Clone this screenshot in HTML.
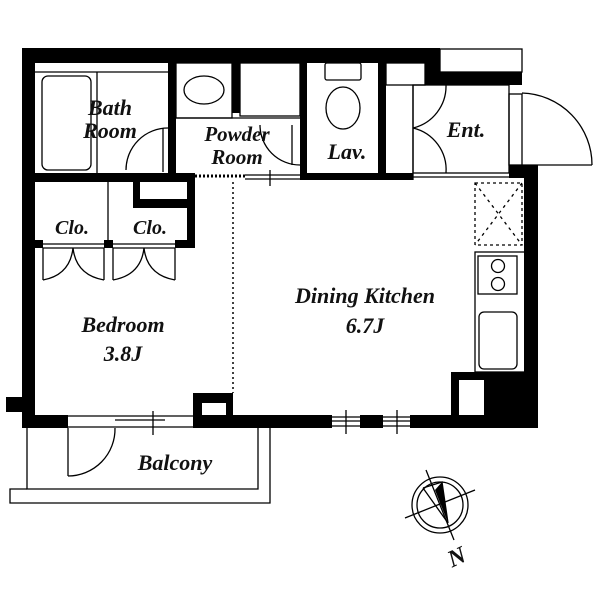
<!DOCTYPE html>
<html><head><style>
html,body{margin:0;padding:0;background:#fff;}
svg{display:block;}
text{font-family:"Liberation Serif",serif;font-weight:bold;font-style:italic;fill:#111;text-anchor:middle;}
</style></head><body>
<svg width="600" height="600" viewBox="0 0 600 600" xmlns="http://www.w3.org/2000/svg">
<g fill="#000">
<rect x="22" y="48" width="418" height="15"/>
<rect x="425" y="48" width="15" height="37"/>
<rect x="440" y="72" width="82" height="13"/>
<rect x="509" y="165" width="29" height="13"/>
<rect x="22" y="48" width="13" height="380"/>
<rect x="6" y="397" width="16" height="15"/>
<rect x="524" y="165" width="14" height="263"/>
<rect x="22" y="415" width="46" height="13"/>
<rect x="193" y="415" width="139" height="13"/>
<rect x="360" y="415" width="23" height="13"/>
<rect x="410" y="415" width="128" height="13"/>
<rect x="451" y="372" width="87" height="56"/>
<rect x="193" y="393" width="40" height="22"/>
<rect x="35" y="173" width="160" height="9"/>
<rect x="168" y="63" width="8" height="117"/>
<rect x="232" y="63" width="8" height="50"/>
<rect x="300" y="63" width="7" height="117"/>
<rect x="300" y="173" width="113" height="7"/>
<rect x="378" y="63" width="8" height="117"/>
<rect x="133" y="182" width="7" height="26"/>
<rect x="133" y="199" width="57" height="9"/>
<rect x="187" y="173" width="8" height="75"/>
<rect x="35" y="240" width="8" height="8"/>
<rect x="104" y="240" width="9" height="8"/>
<rect x="175" y="240" width="20" height="8"/>
</g>
<g fill="#fff">
<rect x="459" y="380" width="25" height="35"/>
<rect x="202" y="403" width="24" height="12"/>
</g>
<g fill="none" stroke="#000" stroke-width="1.3">
<line x1="35" y1="72" x2="168" y2="72"/>
<rect x="42" y="76" width="49" height="94" rx="6"/>
<line x1="97" y1="72" x2="97" y2="173"/>
<path d="M126 170 A42 42 0 0 1 168 128"/>
<line x1="163" y1="128" x2="163" y2="172"/>
<rect x="176" y="63" width="56" height="55"/>
<ellipse cx="204" cy="90" rx="20" ry="14"/>
<rect x="240" y="63" width="60" height="53"/>
<line x1="176" y1="118" x2="300" y2="118"/>
<path d="M260 125 A40 40 0 0 0 300 165"/>
<line x1="292" y1="125" x2="292" y2="165"/>
<line x1="245" y1="175" x2="300" y2="175"/>
<line x1="245" y1="179" x2="300" y2="179"/>
<line x1="270" y1="170" x2="270" y2="186"/>
<line x1="195" y1="176" x2="245" y2="176" stroke-dasharray="2 2" stroke-width="3"/>
<rect x="325" y="63" width="36" height="17" rx="2"/>
<ellipse cx="343" cy="108" rx="17" ry="21"/>
<rect x="386" y="63" width="39" height="22"/>
<rect x="440" y="49" width="82" height="23"/>
<line x1="413" y1="85" x2="413" y2="180"/>
<rect x="413" y="85" width="96" height="88"/>
<path d="M413 128 A43 43 0 0 0 446 85"/>
<path d="M413 128 A43 43 0 0 1 446 173"/>
<line x1="413" y1="177" x2="509" y2="177"/>
<rect x="509" y="94" width="13" height="71"/>
<line x1="522" y1="165" x2="592" y2="165"/>
<path d="M522 93 A72 72 0 0 1 592 165"/>
<rect x="475" y="183" width="47" height="62" stroke-dasharray="3 3"/>
<line x1="475" y1="183" x2="522" y2="245" stroke-dasharray="3 4"/>
<line x1="522" y1="183" x2="475" y2="245" stroke-dasharray="3 4"/>
<rect x="475" y="252" width="50" height="120"/>
<rect x="478" y="256" width="39" height="38"/>
<circle cx="498" cy="266" r="6.5"/>
<circle cx="498" cy="284" r="6.5"/>
<rect x="479" y="312" width="38" height="57" rx="5"/>
<line x1="233" y1="182" x2="233" y2="393" stroke-dasharray="2 3" stroke-width="1.5"/>
<line x1="332" y1="417" x2="360" y2="417"/>
<line x1="332" y1="421" x2="360" y2="421"/>
<line x1="332" y1="426" x2="360" y2="426"/>
<line x1="346" y1="410" x2="346" y2="434"/>
<line x1="383" y1="417" x2="410" y2="417"/>
<line x1="383" y1="421" x2="410" y2="421"/>
<line x1="383" y1="426" x2="410" y2="426"/>
<line x1="397" y1="410" x2="397" y2="434"/>
<line x1="115" y1="416" x2="193" y2="416"/>
<line x1="115" y1="420" x2="165" y2="420"/>
<line x1="68" y1="427" x2="193" y2="427"/>
<line x1="153" y1="411" x2="153" y2="435"/>
<line x1="68" y1="416" x2="115" y2="416"/>
<line x1="108" y1="182" x2="108" y2="240"/>
<line x1="43" y1="248" x2="104" y2="248"/>
<line x1="43" y1="244" x2="104" y2="244"/>
<line x1="113" y1="248" x2="175" y2="248"/>
<line x1="113" y1="244" x2="175" y2="244"/>
<line x1="43" y1="248" x2="43" y2="280"/>
<line x1="104" y1="248" x2="104" y2="280"/>
<line x1="113" y1="248" x2="113" y2="280"/>
<line x1="175" y1="248" x2="175" y2="280"/>
<path d="M43 280 Q70 275 73 248 Q76 275 104 280"/>
<path d="M113 280 Q141 275 144 248 Q147 275 175 280"/>
<line x1="68" y1="428" x2="68" y2="476"/>
<path d="M68 476 A47 47 0 0 0 115 428"/>
<polyline points="27,428 27,489 258,489 258,428"/>
<polyline points="270,428 270,503 10,503 10,489 27,489"/>
<circle cx="440" cy="505" r="28"/>
<circle cx="440" cy="505" r="23"/>
<line x1="426" y1="470" x2="454" y2="540"/>
<line x1="405" y1="518" x2="475" y2="490"/>
<polyline points="423,488 442,482 448,523 423,488"/>
</g>
<polygon points="442,482 435,490 448,523" fill="#000"/>
<text x="110" y="115" font-size="22">Bath</text>
<text x="110" y="138" font-size="22">Room</text>
<text x="237" y="141" font-size="21">Powder</text>
<text x="237" y="164" font-size="21">Room</text>
<text x="347" y="159" font-size="22">Lav.</text>
<text x="466" y="137" font-size="22">Ent.</text>
<text x="72" y="234" font-size="20">Clo.</text>
<text x="150" y="234" font-size="20">Clo.</text>
<text x="365" y="303" font-size="22">Dining Kitchen</text>
<text x="365" y="333" font-size="22">6.7J</text>
<text x="123" y="332" font-size="22">Bedroom</text>
<text x="123" y="361" font-size="22">3.8J</text>
<text x="175" y="470" font-size="22">Balcony</text>
<text x="0" y="0" font-size="24" transform="translate(460,564) rotate(-25)">N</text>
</svg>
</body></html>
